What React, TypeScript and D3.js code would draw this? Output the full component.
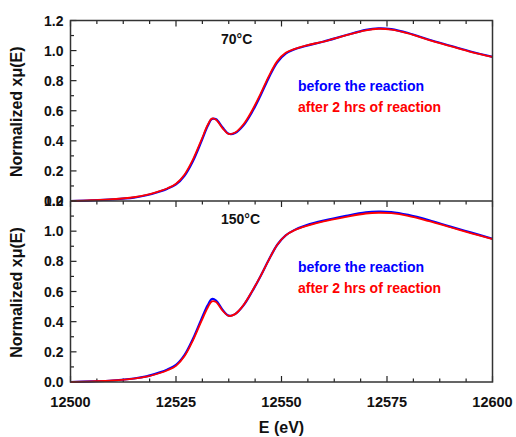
import React from "react";
import * as d3 from "d3";

const energy = [12500, 12505, 12510, 12515, 12518, 12521, 12523, 12525, 12527, 12529, 12531, 12532.5, 12533.5, 12534.5, 12536, 12537.5, 12539, 12541, 12543, 12545, 12547, 12549, 12551, 12553, 12556, 12560, 12565, 12570, 12573, 12576, 12580, 12585, 12590, 12595, 12600];

const top70Before = [0.0, 0.004, 0.011, 0.023, 0.038, 0.062, 0.082, 0.11, 0.168, 0.265, 0.395, 0.498, 0.545, 0.543, 0.49, 0.447, 0.452, 0.503, 0.59, 0.70, 0.82, 0.922, 0.98, 1.008, 1.033, 1.06, 1.10, 1.138, 1.148, 1.143, 1.117, 1.072, 1.032, 0.992, 0.958];
const top70After = [0.0, 0.005, 0.012, 0.025, 0.04, 0.065, 0.085, 0.115, 0.175, 0.275, 0.405, 0.505, 0.548, 0.54, 0.485, 0.445, 0.455, 0.51, 0.60, 0.71, 0.83, 0.93, 0.985, 1.01, 1.035, 1.06, 1.10, 1.135, 1.145, 1.14, 1.115, 1.07, 1.03, 0.99, 0.958];

const bot150Before = [0.0, 0.004, 0.01, 0.023, 0.037, 0.062, 0.083, 0.113, 0.178, 0.285, 0.415, 0.508, 0.55, 0.54, 0.48, 0.44, 0.45, 0.508, 0.598, 0.70, 0.81, 0.91, 0.972, 1.007, 1.04, 1.07, 1.10, 1.125, 1.13, 1.127, 1.108, 1.072, 1.03, 0.99, 0.95];
const bot150After = [0.0, 0.004, 0.01, 0.022, 0.035, 0.058, 0.078, 0.107, 0.17, 0.275, 0.402, 0.492, 0.535, 0.53, 0.474, 0.438, 0.45, 0.51, 0.60, 0.70, 0.81, 0.91, 0.972, 1.005, 1.035, 1.065, 1.093, 1.117, 1.122, 1.119, 1.102, 1.066, 1.026, 0.986, 0.948];

const xTickValues = [12500, 12525, 12550, 12575, 12600];
const xTickLabels = ["12500", "12525", "12550", "12575", "12600"];
const yTickValues = [0, 0.2, 0.4, 0.6, 0.8, 1.0, 1.2];
const yTickLabels = ["0.0", "0.2", "0.4", "0.6", "0.8", "1.0", "1.2"];
const panelTitles = ["70\u00B0C", "150\u00B0C"];
const legendLabels = ["before the reaction", "after 2 hrs of reaction"];
const seriesColors = ["#0000ff", "#ff0000"];

const W = 516;
const H = 437;
const left = 70.5;
const right = 492.5;
const panels = [
  { top: 20.5, bottom: 201, before: top70Before, after: top70After, title: panelTitles[0] },
  { top: 201, bottom: 382, before: bot150Before, after: bot150After, title: panelTitles[1] },
];

const FONT = "'Liberation Sans', Arial, sans-serif";

export default function App() {
  const x = d3.scaleLinear().domain([12500, 12600]).range([left, right]);
  const minorX = d3.range(12500, 12600.001, 6.25);
  const minorY = d3.range(0, 1.2001, 0.1);

  return (
    <div style={{ position: "absolute", left: 0, top: 0 }}>
      <svg width={W} height={H} style={{ display: "block", background: "#fff" }}>
        {panels.map((p, pi) => {
          const y = d3.scaleLinear().domain([0, 1.2]).range([p.bottom, p.top]);
          const line = d3
            .line<number>()
            .x((_, i) => x(energy[i]))
            .y((d) => y(d))
            .curve(d3.curveCatmullRom.alpha(0.5));
          return (
            <g key={pi}>
              {minorY.map((v, i) => {
                const major = i % 2 === 0;
                return (
                  <line key={"yt" + i} x1={left} x2={left + (major ? 6 : 3.5)} y1={y(v)} y2={y(v)} stroke="#222" strokeWidth={1.2} />
                );
              })}
              {yTickValues.map((v, i) => (
                <text key={"yl" + i} x={left - 7} y={y(v)} dy="0.36em" textAnchor="end" fontFamily={FONT} fontWeight="bold" fontSize={14} fill="#111">
                  {yTickLabels[i]}
                </text>
              ))}
              {minorX.map((v, i) => {
                const major = i % 4 === 0;
                return (
                  <line key={"xt" + i} x1={x(v)} x2={x(v)} y1={p.top} y2={p.top + (major ? 6 : 3.5)} stroke="#222" strokeWidth={1.2} />
                );
              })}
              {pi === 1 &&
                minorX.map((v, i) => {
                  const major = i % 4 === 0;
                  return (
                    <line key={"xb" + i} x1={x(v)} x2={x(v)} y1={p.bottom} y2={p.bottom - (major ? 6 : 3.5)} stroke="#222" strokeWidth={1.2} />
                  );
                })}
              <path d={line(p.before) || ""} fill="none" stroke={seriesColors[0]} strokeWidth={2.2} />
              <path d={line(p.after) || ""} fill="none" stroke={seriesColors[1]} strokeWidth={1.8} />
              <text x={221} y={p.top + 23} fontFamily={FONT} fontWeight="bold" fontSize={14} fill="#111">
                {p.title}
              </text>
              {legendLabels.map((l, i) => (
                <text key={"lg" + i} x={298} y={p.top + 70.5 + i * 21} fontFamily={FONT} fontWeight="bold" fontSize={14} fill={seriesColors[i]}>
                  {l}
                </text>
              ))}
              <text
                transform={`translate(16,${(p.top + p.bottom) / 2 + 1}) rotate(-90)`}
                dy="0.36em"
                textAnchor="middle"
                fontFamily={FONT}
                fontWeight="bold"
                fontSize={16}
                fill="#111"
              >
                Normalized x{"\u03BC"}(E)
              </text>
            </g>
          );
        })}
        <rect x={left} y={20.5} width={right - left} height={382 - 20.5} fill="none" stroke="#333" strokeWidth={1.5} />
        <line x1={left} x2={right} y1={201} y2={201} stroke="#333" strokeWidth={1.5} />
        {xTickValues.map((v, i) => (
          <text key={"xl" + i} x={x(v)} y={407} textAnchor="middle" fontFamily={FONT} fontWeight="bold" fontSize={14.5} fill="#111">
            {xTickLabels[i]}
          </text>
        ))}
        <text x={(left + right) / 2} y={433} textAnchor="middle" fontFamily={FONT} fontWeight="bold" fontSize={16} fill="#111">
          E (eV)
        </text>
      </svg>
    </div>
  );
}
